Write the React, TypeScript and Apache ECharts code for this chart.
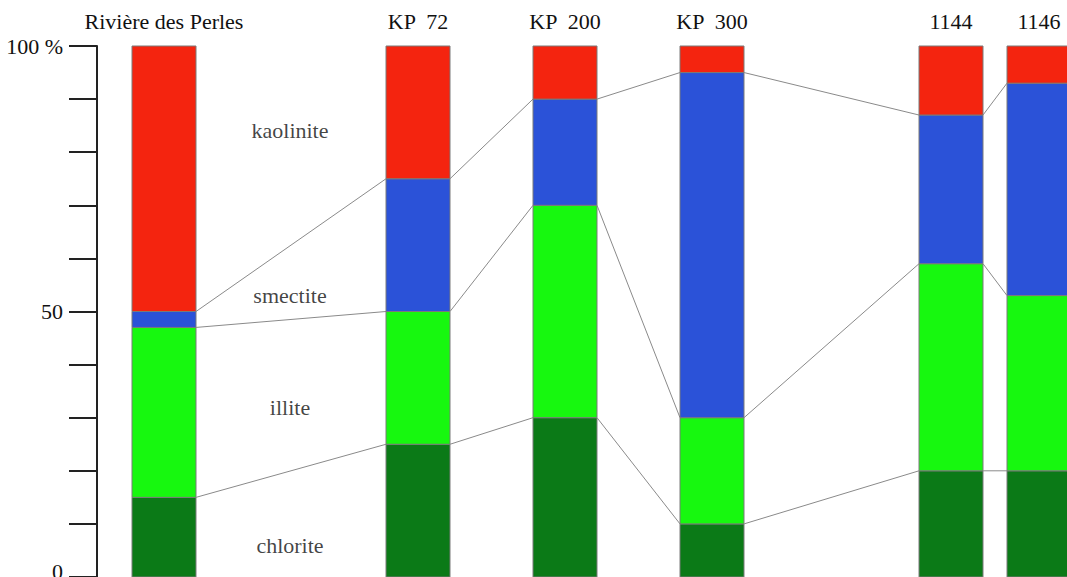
import React, { useEffect, useRef } from "react";
import * as echarts from "echarts";

const sites = ["Rivière des Perles", "KP  72", "KP  200", "KP  300", "1144", "1146"];
const sitePositions = [67, 321, 468, 615, 854, 942];
const minerals = ["chlorite", "illite", "smectite", "kaolinite"];
const chlorite = [15, 25, 30, 10, 20, 20];
const illite = [32, 25, 40, 20, 39, 33];
const smectite = [3, 25, 20, 65, 28, 40];
const kaolinite = [50, 25, 10, 5, 13, 7];
const mineralColors = ["#0b7a17", "#17f80f", "#2b52d8", "#f4240f"];
const labelPositionX = 193;
const labelValues = [6, 32, 53, 84];
const yTicks = { 0: "{z|0}", 50: "50", 100: "100 %" } as Record<number, string>;

const halfWidth = 32;
const serif = "Times New Roman, Liberation Serif, serif";
const fs = 22;

export default function App() {
  const ref = useRef<HTMLDivElement>(null);
  useEffect(() => {
    const chart = echarts.init(ref.current!, null, { renderer: "svg" });
    const stacks = [chlorite, illite, smectite, kaolinite];
    const cum = sites.map((_, i) => {
      const out = [0];
      let s = 0;
      for (const arr of stacks) {
        s += arr[i];
        out.push(s);
      }
      return out;
    });
    const renderItem = (params: any, api: any) => {
      const i = params.dataIndex;
      const p = api.value(0);
      const x0 = api.coord([p - halfWidth, 0])[0];
      const x1 = api.coord([p + halfWidth, 0])[0];
      const children: any[] = [];
      for (let j = 0; j < stacks.length; j++) {
        const yTop = api.coord([p, cum[i][j + 1]])[1];
        const yBot = api.coord([p, cum[i][j]])[1];
        children.push({
          type: "rect",
          shape: { x: x0, y: yTop, width: x1 - x0, height: yBot - yTop },
          style: { fill: mineralColors[j], stroke: "#7a7a7a", lineWidth: 1 },
        });
      }
      if (i < sites.length - 1) {
        const pn = sitePositions[i + 1];
        const nx0 = api.coord([pn - halfWidth, 0])[0];
        for (let k = 1; k < stacks.length; k++) {
          children.push({
            type: "line",
            shape: {
              x1: x1,
              y1: api.coord([p, cum[i][k]])[1],
              x2: nx0,
              y2: api.coord([pn, cum[i + 1][k]])[1],
            },
            style: { stroke: "#8a8a8a", lineWidth: 1 },
          });
        }
      }
      const top = api.coord([p, 100])[1];
      children.push({
        type: "text",
        x: (x0 + x1) / 2,
        y: top - 25,
        style: {
          text: sites[i],
          fill: "#111",
          fontFamily: serif,
          fontSize: fs,
          align: "center",
          verticalAlign: "middle",
        },
      });
      return { type: "group", children };
    };
    chart.setOption({
      animation: false,
      grid: { left: 97, right: 0, top: 46, bottom: 0, outerBoundsMode: "none", containLabel: false },
      xAxis: { type: "value", min: 0, max: 970, show: false },
      yAxis: {
        type: "value",
        min: 0,
        max: 100,
        interval: 10,
        axisLine: { show: true, lineStyle: { color: "#222", width: 2 } },
        axisTick: { show: true, length: 28, lineStyle: { color: "#222", width: 2 } },
        splitLine: { show: false },
        axisLabel: {
          margin: 34,
          color: "#111",
          fontFamily: serif,
          fontSize: fs,
          formatter: (v: number) => yTicks[v] ?? "",
          rich: {
            z: { fontFamily: serif, fontSize: fs, color: "#111", padding: [0, 0, 12, 0] },
          },
        },
      },
      series: [
        {
          type: "custom",
          renderItem,
          clip: false,
          data: sitePositions.map((p, i) => [p, i]),
          z: 2,
        },
        {
          type: "scatter",
          symbolSize: 1,
          itemStyle: { color: "rgba(0,0,0,0)" },
          data: labelValues.map((v, j) => ({ value: [labelPositionX, v], name: minerals[j] })),
          label: {
            show: true,
            position: "inside",
            formatter: (d: any) => d.name,
            color: "#111",
            fontFamily: serif,
            fontSize: fs,
          },
          z: 3,
        },
      ],
    });
    return () => chart.dispose();
  }, []);
  return (
    <div
      ref={ref}
      style={{ position: "fixed", left: 0, top: 0, width: 1067, height: 577, background: "#fff" }}
    />
  );
}
